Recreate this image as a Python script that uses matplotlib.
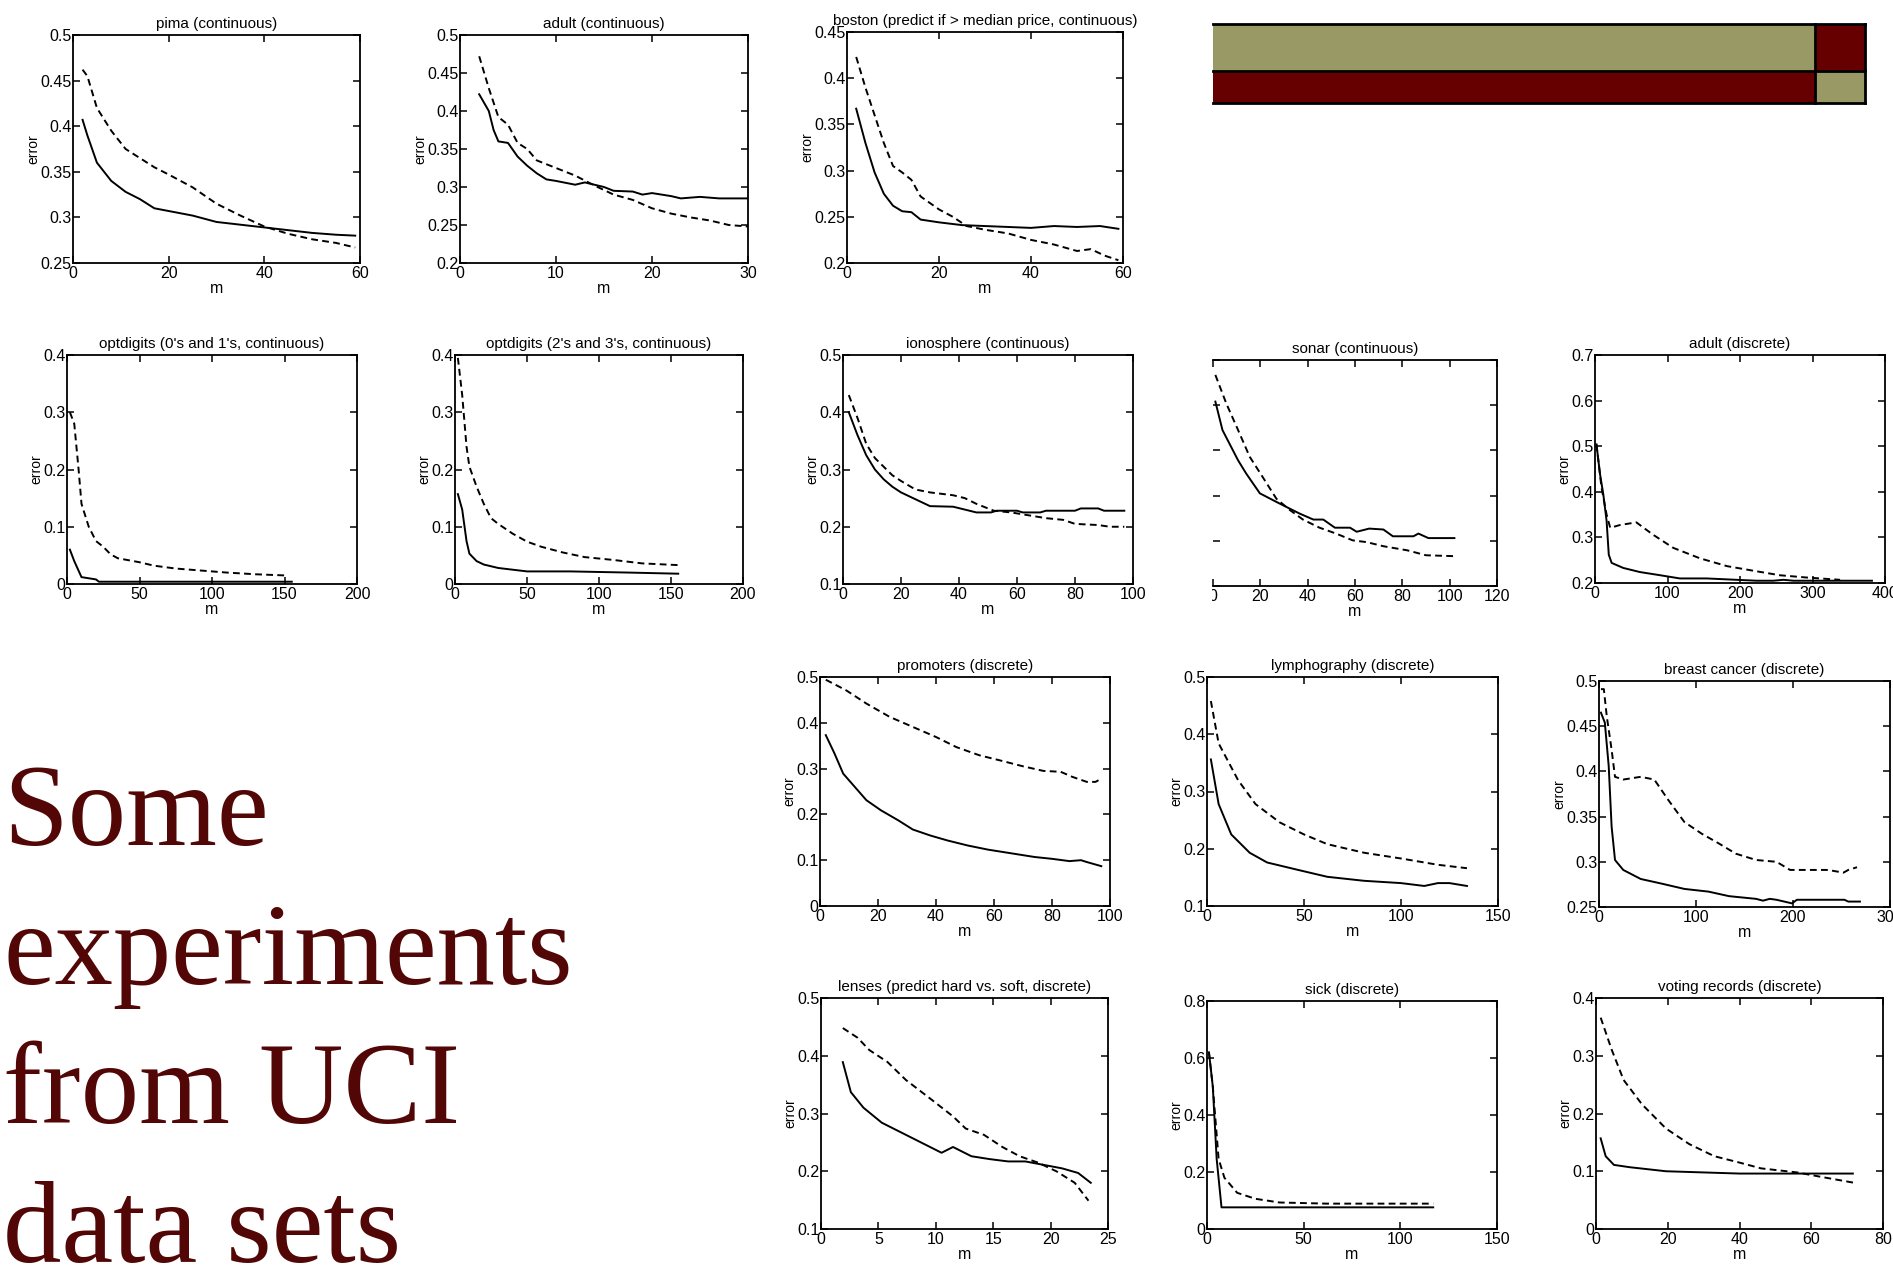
import matplotlib.pyplot as plt
from matplotlib.patches import Rectangle
from matplotlib.ticker import MultipleLocator, FuncFormatter

W, H = 1893, 1282

# ---- error vs. number of examples m (solid / dashed curves) ----
pima_m_solid = [2, 3, 5, 8, 11, 14, 17, 20, 25, 30, 35, 40, 45, 50, 55, 59]
pima_solid = [0.407, 0.39, 0.36, 0.34, 0.328, 0.32, 0.31, 0.307, 0.302, 0.295,
              0.292, 0.289, 0.286, 0.283, 0.281, 0.280]
pima_m_dash = [2, 3, 5, 8, 11, 14, 17, 20, 25, 30, 35, 40, 45, 50, 55, 59]
pima_dash = [0.462, 0.455, 0.42, 0.395, 0.375, 0.365, 0.355, 0.347, 0.333, 0.315,
             0.302, 0.29, 0.282, 0.276, 0.272, 0.267]

adultc_m_solid = [2, 3, 3.5, 4, 5, 6, 7, 8, 9, 10, 12, 13, 15, 16, 18, 19, 20, 22,
                  23, 25, 27, 30]
adultc_solid = [0.422, 0.40, 0.375, 0.36, 0.358, 0.34, 0.328, 0.318, 0.31, 0.308,
                0.303, 0.306, 0.30, 0.295, 0.294, 0.29, 0.292, 0.288, 0.285,
                0.287, 0.285, 0.285]
adultc_m_dash = [2, 3, 4, 5, 6, 7, 8, 10, 12, 14, 16, 18, 20, 22, 24, 26, 28, 30]
adultc_dash = [0.472, 0.43, 0.392, 0.382, 0.358, 0.35, 0.335, 0.325, 0.315, 0.302,
               0.29, 0.283, 0.272, 0.265, 0.26, 0.256, 0.25, 0.248]

boston_m_solid = [2, 4, 6, 8, 10, 12, 14, 16, 20, 25, 30, 40, 45, 50, 55, 59]
boston_solid = [0.367, 0.33, 0.298, 0.275, 0.262, 0.256, 0.255, 0.247, 0.244,
                0.241, 0.24, 0.238, 0.24, 0.239, 0.24, 0.237]
boston_m_dash = [2, 4, 6, 8, 10, 12, 14, 16, 18, 20, 23, 26, 30, 35, 40, 45, 50,
                 53, 56, 59]
boston_dash = [0.423, 0.39, 0.36, 0.33, 0.305, 0.298, 0.29, 0.272, 0.265, 0.258,
               0.25, 0.24, 0.236, 0.232, 0.225, 0.22, 0.213, 0.215, 0.208, 0.203]

opt01_m_solid = [2, 5, 10, 15, 20, 22, 155]
opt01_solid = [0.06, 0.04, 0.012, 0.01, 0.008, 0.004, 0.004]
opt01_m_dash = [2, 5, 8, 10, 15, 20, 25, 30, 35, 50, 60, 75, 90, 110, 130, 150]
opt01_dash = [0.30, 0.28, 0.20, 0.14, 0.10, 0.075, 0.065, 0.052, 0.045, 0.038,
              0.032, 0.027, 0.024, 0.02, 0.017, 0.015]

opt23_m_solid = [2, 5, 8, 10, 15, 20, 30, 40, 50, 80, 120, 155]
opt23_solid = [0.157, 0.13, 0.075, 0.053, 0.04, 0.034, 0.028, 0.025, 0.022, 0.022,
               0.02, 0.018]
opt23_m_dash = [2, 5, 8, 10, 15, 20, 25, 30, 40, 50, 60, 75, 90, 110, 130, 155]
opt23_dash = [0.395, 0.33, 0.24, 0.205, 0.17, 0.14, 0.115, 0.105, 0.088, 0.074,
              0.065, 0.055, 0.047, 0.042, 0.036, 0.033]

iono_m_solid = [2, 5, 8, 11, 14, 17, 20, 25, 30, 38, 42, 46, 51, 53, 60, 62, 68,
                70, 80, 82, 88, 90, 97]
iono_solid = [0.40, 0.36, 0.325, 0.30, 0.283, 0.27, 0.26, 0.248, 0.236, 0.235,
              0.23, 0.225, 0.225, 0.228, 0.228, 0.225, 0.225, 0.228, 0.228, 0.232,
              0.232, 0.228, 0.228]
iono_m_dash = [2, 5, 8, 11, 14, 17, 20, 25, 30, 38, 42, 46, 52, 58, 64, 70, 76, 80,
               88, 92, 97]
iono_dash = [0.43, 0.39, 0.345, 0.32, 0.305, 0.29, 0.28, 0.265, 0.26, 0.255, 0.25,
             0.24, 0.228, 0.225, 0.22, 0.215, 0.212, 0.205, 0.203, 0.20, 0.20]

sonar_m_solid = [1, 4, 10.6, 14, 19.8, 26.8, 32.5, 36.7, 42.4, 46.6, 51.5, 57.9,
                 60.7, 66, 72, 76, 84.7, 86.8, 91, 102]
sonar_solid = [0.408, 0.345, 0.278, 0.249, 0.205, 0.186, 0.171, 0.16, 0.147, 0.147,
               0.129, 0.129, 0.12, 0.127, 0.125, 0.11, 0.11, 0.116, 0.106, 0.106]
sonar_m_dash = [1, 5.6, 10.6, 15.5, 21, 26.8, 32.5, 38, 45, 52, 59, 65, 72, 82, 90,
                102]
sonar_dash = [0.467, 0.404, 0.345, 0.286, 0.241, 0.193, 0.168, 0.147, 0.129, 0.116,
              0.101, 0.097, 0.088, 0.079, 0.068, 0.066]

adultd_m_solid = [2, 7, 11.5, 16, 19, 23, 39, 62, 90, 117, 154, 195, 223, 246, 260,
                  274, 382]
adultd_solid = [0.504, 0.438, 0.394, 0.336, 0.262, 0.244, 0.233, 0.224, 0.217,
                0.21, 0.21, 0.207, 0.205, 0.205, 0.207, 0.205, 0.205]
adultd_m_dash = [2, 9, 16, 21, 34, 57, 80, 108, 145, 182, 218, 255, 292, 338]
adultd_dash = [0.504, 0.409, 0.35, 0.321, 0.327, 0.333, 0.306, 0.277, 0.254, 0.237,
               0.227, 0.217, 0.212, 0.207]

prom_m_solid = [2, 5, 8, 12, 16, 21, 27, 32, 38, 44, 51, 58, 67, 74, 80, 86, 90,
                92, 97]
prom_solid = [0.373, 0.333, 0.289, 0.26, 0.231, 0.209, 0.187, 0.167, 0.154, 0.143,
              0.132, 0.123, 0.114, 0.107, 0.103, 0.098, 0.10, 0.096, 0.087]
prom_m_dash = [2, 9, 16, 24, 32, 40, 47, 55, 62, 70, 77, 83, 87, 92, 95, 97]
prom_dash = [0.494, 0.471, 0.442, 0.413, 0.391, 0.369, 0.347, 0.329, 0.318, 0.305,
             0.295, 0.293, 0.282, 0.271, 0.271, 0.278]

lymph_m_solid = [2, 6, 12.5, 22, 31, 47, 62, 81, 100, 112, 119, 125, 134]
lymph_solid = [0.356, 0.278, 0.225, 0.193, 0.176, 0.163, 0.151, 0.144, 0.14, 0.135,
               0.14, 0.14, 0.135]
lymph_m_dash = [2, 6, 16, 25, 37.5, 50, 62, 81, 100, 119, 134]
lymph_dash = [0.458, 0.384, 0.32, 0.278, 0.246, 0.225, 0.208, 0.193, 0.183, 0.172,
              0.166]

breast_m_solid = [2, 6, 10, 13, 16.5, 25, 43, 64, 88, 113, 134, 162, 169, 176, 183,
                  199, 204, 253, 257, 269]
breast_solid = [0.465, 0.454, 0.406, 0.339, 0.302, 0.291, 0.281, 0.276, 0.27,
                0.267, 0.262, 0.259, 0.257, 0.259, 0.258, 0.254, 0.258, 0.258,
                0.256, 0.256]
breast_m_dash = [2, 5, 8, 13, 16.5, 25, 43, 57, 71, 88, 106, 124, 141, 162, 183,
                 197, 218, 236, 252, 257, 266]
breast_dash = [0.491, 0.491, 0.461, 0.424, 0.394, 0.391, 0.394, 0.391, 0.369,
               0.344, 0.331, 0.32, 0.309, 0.302, 0.30, 0.291, 0.291, 0.291, 0.288,
               0.291, 0.294]

lenses_m_solid = [1.9, 2.6, 3.7, 5.3, 7.4, 9.5, 10.5, 11.5, 13.1, 14.7, 16.3, 17.8,
                  19.4, 21, 22.4, 23.5]
lenses_solid = [0.389, 0.337, 0.31, 0.284, 0.263, 0.242, 0.232, 0.242, 0.226,
                0.221, 0.217, 0.217, 0.211, 0.205, 0.197, 0.18]
lenses_m_dash = [1.9, 3.2, 4.2, 5.8, 7.4, 9.5, 11.5, 12.6, 14.2, 15.8, 17.3, 18.9,
                 20.5, 22.1, 23.3]
lenses_dash = [0.448, 0.431, 0.41, 0.389, 0.358, 0.326, 0.295, 0.274, 0.263, 0.242,
               0.226, 0.215, 0.20, 0.18, 0.149]

sick_m_solid = [1, 3, 5, 7.5, 117]
sick_solid = [0.62, 0.50, 0.246, 0.076, 0.076]
sick_m_dash = [1, 3, 6, 9, 15.6, 25, 37.5, 62, 117]
sick_dash = [0.62, 0.50, 0.246, 0.18, 0.127, 0.106, 0.093, 0.089, 0.089]

voting_m_solid = [1.3, 2.7, 5, 9.4, 19.5, 40, 60, 71.6]
voting_solid = [0.157, 0.126, 0.111, 0.107, 0.10, 0.096, 0.096, 0.096]
voting_m_dash = [1.3, 4.4, 7.7, 12.8, 19.5, 26, 33, 40, 46, 56, 63, 72]
voting_dash = [0.366, 0.31, 0.258, 0.216, 0.174, 0.147, 0.126, 0.115, 0.105, 0.098,
               0.09, 0.08]

plt.rcParams['font.family'] = ['Liberation Sans', 'DejaVu Sans']

fig = plt.figure(figsize=(W / 100, H / 100), dpi=100)


def add_panel(box, title, m_solid, solid, m_dash, dash, xlim, ylim, xstep, ystep,
              show_y=True):
    """Adds one MATLAB-style error curve panel; box is (left, top, right, bottom) px."""
    l, t, r, b = box
    ax = fig.add_axes([l / W, 1 - b / H, (r - l) / W, (b - t) / H])
    ax.plot(m_solid, solid, color='black', lw=1.4)
    ax.plot(m_dash, dash, color='black', lw=1.4, linestyle=(0, (3.5, 2.2)))
    ax.set_xlim(*xlim)
    ax.set_ylim(*ylim)
    ax.xaxis.set_major_locator(MultipleLocator(xstep))
    ax.yaxis.set_major_locator(MultipleLocator(ystep))
    fmt = FuncFormatter(lambda v, p: f"{v:g}")
    ax.xaxis.set_major_formatter(fmt)
    ax.yaxis.set_major_formatter(fmt)
    ax.tick_params(direction='in', top=True, right=True, length=5, width=1.1,
                   labelsize=11.5, pad=2)
    ax.tick_params(axis='y', pad=1)
    for s in ax.spines.values():
        s.set_linewidth(1.3)
    ax.set_title(title, fontsize=11, pad=5)
    ax.set_xlabel('m', fontsize=11.5, labelpad=0)
    if show_y:
        ax.set_ylabel('error', fontsize=10, labelpad=0)
    else:
        ax.spines['left'].set_visible(False)
        ax.tick_params(axis='y', labelleft=False)
    return ax


add_panel((73, 35, 360, 263), 'pima (continuous)', pima_m_solid, pima_solid,
          pima_m_dash, pima_dash, (0, 60), (0.25, 0.5), 20, 0.05)
add_panel((460, 35, 748, 263), 'adult (continuous)', adultc_m_solid, adultc_solid,
          adultc_m_dash, adultc_dash, (0, 30), (0.2, 0.5), 10, 0.05)
add_panel((847, 32, 1123, 263), 'boston (predict if > median price, continuous)',
          boston_m_solid, boston_solid, boston_m_dash, boston_dash,
          (0, 60), (0.2, 0.45), 20, 0.05)

add_panel((67, 355, 357, 584), "optdigits (0's and 1's, continuous)",
          opt01_m_solid, opt01_solid, opt01_m_dash, opt01_dash,
          (0, 200), (0, 0.4), 50, 0.1)
add_panel((455, 355, 743, 584), "optdigits (2's and 3's, continuous)",
          opt23_m_solid, opt23_solid, opt23_m_dash, opt23_dash,
          (0, 200), (0, 0.4), 50, 0.1)
add_panel((843, 355, 1133, 584), 'ionosphere (continuous)', iono_m_solid,
          iono_solid, iono_m_dash, iono_dash, (0, 100), (0.1, 0.5), 20, 0.1)
add_panel((1213, 360, 1497, 586), 'sonar (continuous)', sonar_m_solid,
          sonar_solid, sonar_m_dash, sonar_dash, (0, 120), (0, 0.5), 20, 0.1,
          show_y=False)
add_panel((1595, 355, 1885, 583), 'adult (discrete)', adultd_m_solid, adultd_solid,
          adultd_m_dash, adultd_dash, (0, 400), (0.2, 0.7), 100, 0.1)

add_panel((820, 677, 1110, 906), 'promoters (discrete)', prom_m_solid, prom_solid,
          prom_m_dash, prom_dash, (0, 100), (0, 0.5), 20, 0.1)
add_panel((1207, 677, 1498, 906), 'lymphography (discrete)', lymph_m_solid,
          lymph_solid, lymph_m_dash, lymph_dash, (0, 150), (0.1, 0.5), 50, 0.1)
add_panel((1599, 681, 1890, 907), 'breast cancer (discrete)', breast_m_solid,
          breast_solid, breast_m_dash, breast_dash, (0, 300), (0.25, 0.5), 100,
          0.05)

add_panel((821, 998, 1108, 1229), 'lenses (predict hard vs. soft, discrete)',
          lenses_m_solid, lenses_solid, lenses_m_dash, lenses_dash,
          (0, 25), (0.1, 0.5), 5, 0.1)
add_panel((1207, 1001, 1497, 1229), 'sick (discrete)', sick_m_solid, sick_solid,
          sick_m_dash, sick_dash, (0, 150), (0, 0.8), 50, 0.2)
add_panel((1596, 998, 1883, 1229), 'voting records (discrete)', voting_m_solid,
          voting_solid, voting_m_dash, voting_dash, (0, 80), (0, 0.4), 20, 0.1)

# overlay in pixel units: slide decoration and heading
over = fig.add_axes([0, 0, 1, 1], zorder=5)
over.set_xlim(0, W)
over.set_ylim(H, 0)
over.axis('off')

# sonar panel is cropped at its left edge
over.add_patch(Rectangle((1150, 340), 62, 270, facecolor='white', edgecolor='none'))

olive, maroon = '#999966', '#660000'
over.add_patch(Rectangle((1213, 24), 602, 47, facecolor=olive, edgecolor='none'))
over.add_patch(Rectangle((1815, 24), 50, 47, facecolor=maroon, edgecolor='none'))
over.add_patch(Rectangle((1213, 71), 602, 32, facecolor=maroon, edgecolor='none'))
over.add_patch(Rectangle((1815, 71), 50, 32, facecolor=olive, edgecolor='none'))
for y in (24, 71, 103):
    over.plot([1213, 1865], [y, y], color='black', lw=2)
for x in (1815, 1865):
    over.plot([x, x], [24, 103], color='black', lw=2)

heading = ['Some', 'experiments', 'from UCI', 'data sets']
for i, line in enumerate(heading):
    over.text(3, 845 + i * 139, line, family='Liberation Serif', fontsize=84,
              color='#520606', va='baseline', ha='left')

fig.savefig('out.png', dpi=100)
